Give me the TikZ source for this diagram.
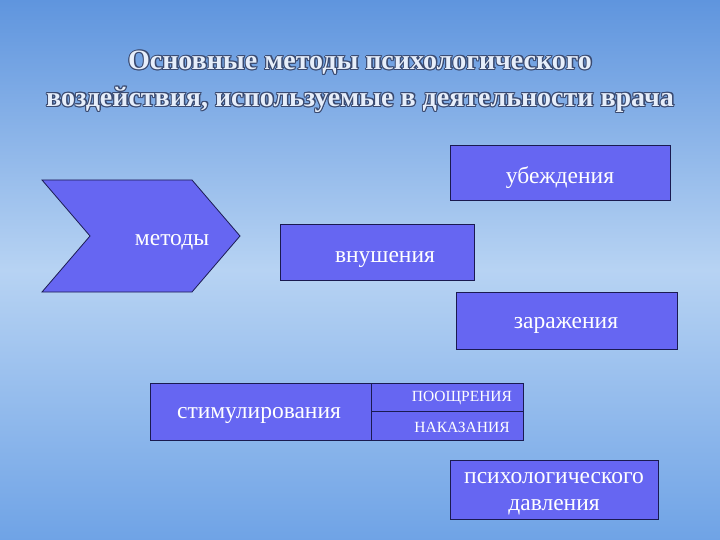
\documentclass[tikz,border=0pt]{standalone}
\usepackage{fontspec}
\setmainfont{Liberation Serif}
\definecolor{boxc}{HTML}{6666F2}
\definecolor{edgec}{HTML}{1A1A50}
\definecolor{bgtop}{HTML}{5F95DE}
\definecolor{bgmid}{HTML}{B7D3F3}
\definecolor{bgbot}{HTML}{6FA3E6}
\definecolor{titc}{HTML}{E6EEFA}
\definecolor{titdark}{HTML}{3A4A70}
\tikzset{
 bx/.style={draw=edgec, line width=0.8pt, fill=boxc},
 wt/.style={text=white, font=\fontsize{23.5}{27}\selectfont, align=center, inner sep=0pt},
 sm/.style={text=white, font=\fontsize{15.5}{17}\selectfont, inner sep=0pt},
}
\newcommand{\ttl}[3]{%
 \foreach \dx/\dy in {-1/0,1/0,0/-1,0/1,-0.8/-0.8,0.8/0.8,-0.8/0.8,0.8/-0.8,1.5/-1.5}{
  \node[text=titdark,font=\bfseries\fontsize{28}{30}\selectfont,inner sep=0pt] at (#1+\dx,#2+\dy) {#3};}
 \node[text=titc,font=\bfseries\fontsize{28}{30}\selectfont,inner sep=0pt] at (#1,#2) {#3};}
\begin{document}
\begin{tikzpicture}[x=1pt,y=-1pt]
\shade[top color=bgtop, bottom color=bgmid] (0,0) rectangle (720,270);
\shade[top color=bgmid, bottom color=bgbot] (0,270) rectangle (720,540);
\useasboundingbox (0,0) rectangle (720,540);
\ttl{360}{63}{Основные методы психологического}
\ttl{360}{100}{воздействия, используемые в деятельности врача}
% убеждения
\draw[bx] (450,145) rectangle (670,200);
\node[wt] (ub) at (560,178) {убеждения};
% chevron
\draw[bx] (42,180) -- (192,180) -- (240,236) -- (192,292) -- (42,292) -- (90,236) -- cycle;
\node[wt] (met) at (172,242) {методы};
% внушения
\draw[bx] (280,224) rectangle (474,280);
\node[wt] (vn) at (385,259) {внушения};
% заражения
\draw[bx] (456,292) rectangle (677,349);
\node[wt] (zar) at (566,325) {заражения};
% стимулирования
\draw[bx] (150,383) rectangle (371,440);
\draw[bx] (371,383) rectangle (523,411);
\draw[bx] (371,411) rectangle (523,440);
\node[wt] (st) at (259,415) {стимулирования};
\node[sm] (po) at (462,398) {ПООЩРЕНИЯ};
\node[sm] (na) at (462,427) {НАКАЗАНИЯ};
% давления
\draw[bx] (450,460) rectangle (658,519);
\node[wt, text width=210pt] (dav) at (554,494) {психологического\\давления};
\end{tikzpicture}
\end{document}
